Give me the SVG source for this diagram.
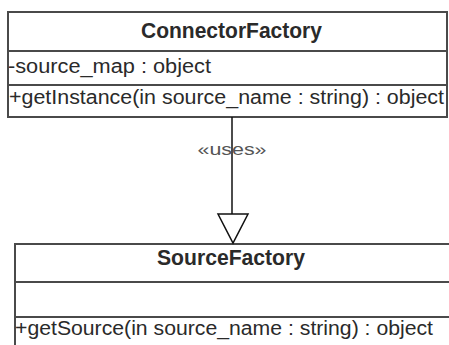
<svg xmlns="http://www.w3.org/2000/svg" width="449" height="345" viewBox="0 0 449 345">
<style>
.box{fill:#fff;stroke:#4a4a4a;stroke-width:2}
.div{stroke:#4a4a4a;stroke-width:2}
.t{font-family:"Liberation Sans",Arial,sans-serif;fill:#2a2a2a}
.title{font-size:22px;font-weight:bold}
.m{font-size:20px}
.lbl{font-family:"Liberation Sans",Arial,sans-serif;font-size:17px;fill:#555}
.conn{stroke:#111;stroke-width:1.5;fill:none}
</style>
<rect width="449" height="345" fill="#fff"/>
<g id="ConnectorFactory">
<rect class="box" x="8" y="12" width="439" height="105"/>
<line class="div" x1="8" y1="51" x2="447" y2="51"/>
<line class="div" x1="8" y1="85" x2="447" y2="85"/>
<text class="t title" x="231.5" y="38" text-anchor="middle" textLength="181" lengthAdjust="spacingAndGlyphs">ConnectorFactory</text>
<text class="t m" x="8" y="73" textLength="203" lengthAdjust="spacingAndGlyphs">-source_map : object</text>
<text class="t m" x="9" y="104" textLength="435" lengthAdjust="spacingAndGlyphs">+getInstance(in source_name : string) : object</text>
</g>
<g id="SourceFactory">
<rect class="box" x="15" y="244" width="440" height="110"/>
<line class="div" x1="15" y1="282" x2="449" y2="282"/>
<line class="div" x1="15" y1="317" x2="449" y2="317"/>
<text class="t title" x="231" y="265" text-anchor="middle" textLength="148" lengthAdjust="spacingAndGlyphs">SourceFactory</text>
<text class="t m" x="15" y="335" textLength="418" lengthAdjust="spacingAndGlyphs">+getSource(in source_name : string) : object</text>
</g>
<g id="connectors">
<line class="conn" x1="232" y1="117" x2="232" y2="214"/>
<polygon class="conn" points="218,214 248,214 233,243" style="fill:#fff"/>
<text class="lbl" x="232" y="155" text-anchor="middle" textLength="69" lengthAdjust="spacingAndGlyphs">«uses»</text>
</g>
</svg>
